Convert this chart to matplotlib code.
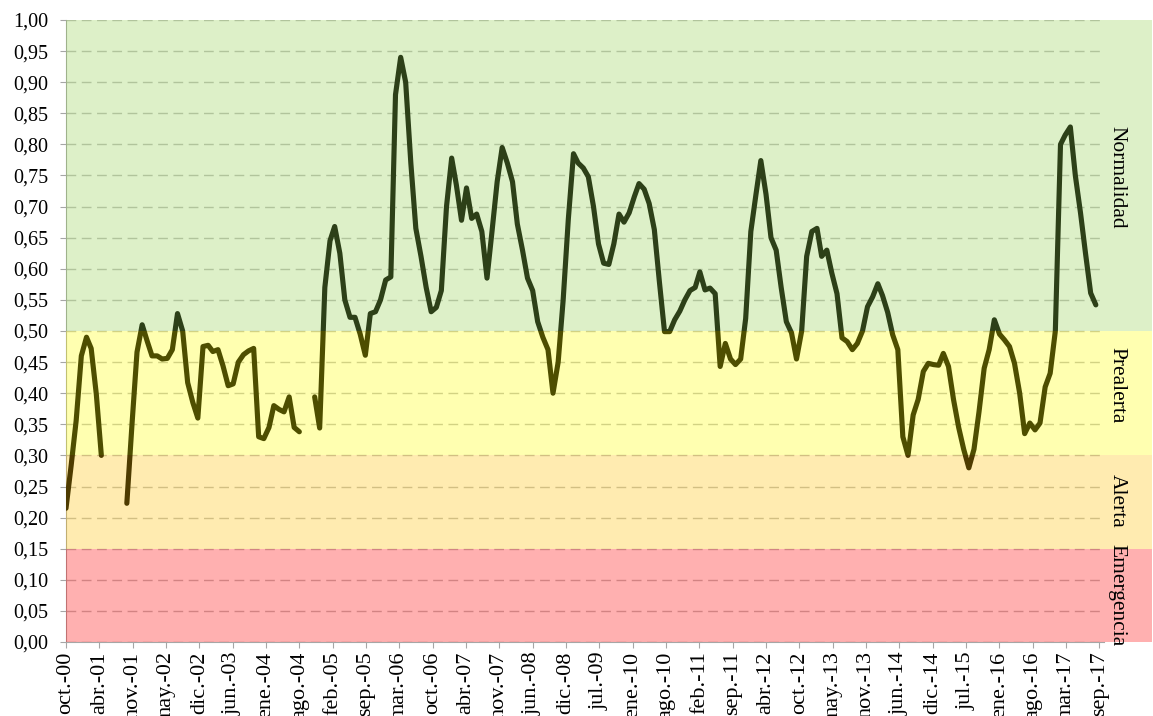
import numpy as np
import pandas as pd
import matplotlib
matplotlib.use("Agg")
import matplotlib.pyplot as plt
import matplotlib.transforms as mtransforms
from matplotlib.patches import Rectangle
from matplotlib.ticker import FuncFormatter

plt.rcParams["font.family"] = ["Liberation Serif", "DejaVu Serif"]

# Índice de estado mensual por año hidrológico (oct. a sep.); None = mes sin dato
a2001 = [0.215, 0.284, 0.356, 0.46, 0.49, 0.472, 0.398, 0.30, None, None, None, None]
a2002 = [0.223, 0.35, 0.466, 0.51, 0.483, 0.46, 0.46, 0.455, 0.456, 0.47, 0.528, 0.50]
a2003 = [0.417, 0.385, 0.36, 0.475, 0.477, 0.467, 0.47, 0.444, 0.412, 0.415, 0.45, 0.462]
a2004 = [0.468, 0.472, 0.33, 0.327, 0.345, 0.38, 0.374, 0.37, 0.394, 0.345, 0.338, None]
a2005 = [None, 0.394, 0.344, 0.57, 0.645, 0.668, 0.625, 0.55, 0.522, 0.522, 0.495, 0.461]
a2006 = [0.528, 0.531, 0.55, 0.582, 0.587, 0.88, 0.94, 0.90, 0.77, 0.665, 0.62, 0.57]
a2007 = [0.531, 0.538, 0.565, 0.70, 0.778, 0.735, 0.678, 0.73, 0.681, 0.688, 0.66, 0.585]
a2008 = [0.66, 0.74, 0.795, 0.77, 0.74, 0.672, 0.63, 0.585, 0.565, 0.515, 0.49, 0.47]
a2009 = [0.40, 0.45, 0.55, 0.68, 0.785, 0.77, 0.762, 0.748, 0.70, 0.64, 0.609, 0.607]
a2010 = [0.64, 0.688, 0.675, 0.69, 0.716, 0.737, 0.728, 0.705, 0.663, 0.58, 0.499, 0.499]
a2011 = [0.518, 0.532, 0.55, 0.565, 0.57, 0.595, 0.566, 0.569, 0.56, 0.443, 0.48, 0.455]
a2012 = [0.446, 0.455, 0.52, 0.66, 0.72, 0.774, 0.72, 0.65, 0.63, 0.57, 0.515, 0.497]
a2013 = [0.455, 0.50, 0.62, 0.66, 0.665, 0.62, 0.63, 0.593, 0.56, 0.489, 0.483, 0.47]
a2014 = [0.48, 0.50, 0.539, 0.555, 0.576, 0.557, 0.53, 0.494, 0.47, 0.33, 0.30, 0.365]
a2015 = [0.39, 0.435, 0.448, 0.446, 0.445, 0.464, 0.443, 0.39, 0.345, 0.31, 0.28, 0.31]
a2016 = [0.37, 0.44, 0.47, 0.518, 0.495, 0.486, 0.475, 0.448, 0.40, 0.335, 0.352, 0.341]
a2017 = [0.352, 0.41, 0.432, 0.50, 0.80, 0.815, 0.828, 0.75, 0.69, 0.625, 0.561, 0.542]

umbrales = [0.0, 0.15, 0.30, 0.50, 1.0]
estados = ["Emergencia", "Alerta", "Prealerta", "Normalidad"]
colores = ["#FF0000", "#FFC000", "#FFFF00", "#92D050"]
meses = ["ene.", "feb.", "mar.", "abr.", "may.", "jun.",
         "jul.", "ago.", "sep.", "oct.", "nov.", "dic."]

indice = (a2001 + a2002 + a2003 + a2004 + a2005 + a2006 + a2007 + a2008 + a2009
          + a2010 + a2011 + a2012 + a2013 + a2014 + a2015 + a2016 + a2017)
serie = np.array([np.nan if v is None else v for v in indice], dtype=float)
inicio = pd.Timestamp("2000-10-01")
fechas = pd.date_range(inicio, periods=len(serie), freq="MS")

fig = plt.figure(figsize=(11.53, 7.16), dpi=100)
ax = fig.add_axes([66 / 1153, 74 / 716, 1038 / 1153, 622 / 716])

ax.plot(fechas, serie, color="black", lw=3.7, solid_joinstyle="round",
        solid_capstyle="round", zorder=3)

# bandas de estado semitransparentes por encima de la línea
trans = mtransforms.blended_transform_factory(ax.transAxes, ax.transData)
pos_rotulo = [0.075, 0.227, 0.413, 0.747]
for i in range(len(estados)):
    ax.add_patch(Rectangle((0, umbrales[i]), 1086 / 1038, umbrales[i + 1] - umbrales[i],
                           transform=trans, facecolor=colores[i], alpha=0.31, lw=0,
                           zorder=4, clip_on=False))
    ax.text(1051 / 1038, pos_rotulo[i], estados[i], transform=trans,
            rotation=-90, ha="center", va="center", fontsize=15.5, zorder=5)

ax.set_ylim(0, 1)
ax.set_xlim(inicio, inicio + pd.Timedelta(days=6228))
ax.set_yticks(np.arange(0, 1.001, 0.05))
ax.yaxis.set_major_formatter(FuncFormatter(lambda v, p: f"{v:.2f}".replace(".", ",")))

marcas = [inicio + pd.Timedelta(days=200 * k) for k in range(32)]
ax.set_xticks(marcas)
ax.set_xticklabels([f"{meses[d.month - 1]}-{d.strftime('%y')}" for d in marcas],
                   rotation=90, ha="center", va="top")

ax.set_axisbelow(True)
ax.yaxis.grid(True, color="#bfbfbf", lw=1, ls=(0, (7, 4)))
for lado in ["top", "right"]:
    ax.spines[lado].set_visible(False)
for lado in ["left", "bottom"]:
    ax.spines[lado].set_color("#a6a6a6")
ax.tick_params(axis="y", length=4.3, color="#a6a6a6", labelsize=14.5, pad=8.5)
ax.tick_params(axis="x", length=4.3, color="#a6a6a6", labelsize=16, pad=2.5)

fig.savefig("out.png", dpi=100)
